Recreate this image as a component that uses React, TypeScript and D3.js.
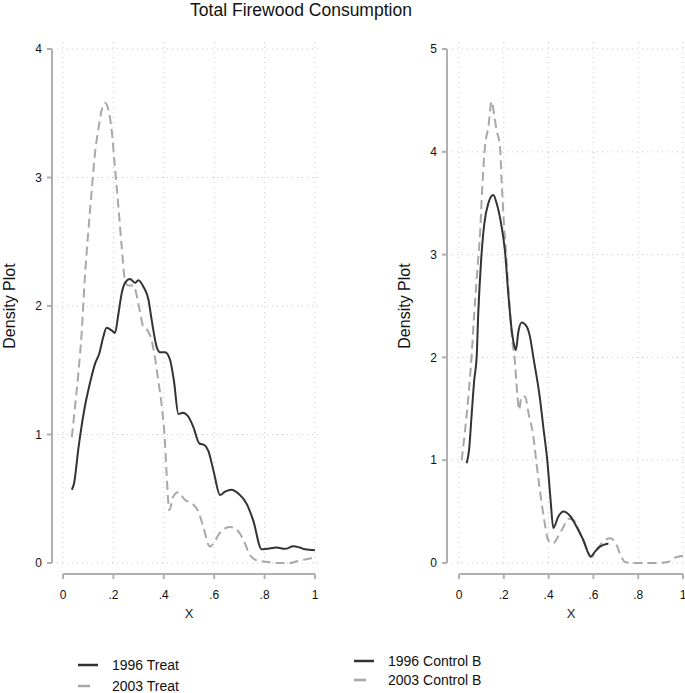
import React from "react";
import * as d3 from "d3";

const xTicks = [0, 0.2, 0.4, 0.6, 0.8, 1];
const xTickLabels = ["0", ".2", ".4", ".6", ".8", "1"];
const yTicksLeft = [0, 1, 2, 3, 4];
const yTicksRight = [0, 1, 2, 3, 4, 5];

const treat1996: [number, number][] = [
  [0.035, 0.57], [0.044, 0.62], [0.061, 0.89], [0.087, 1.22], [0.107, 1.4], [0.127, 1.55], [0.144, 1.63],
  [0.16, 1.76], [0.173, 1.83], [0.193, 1.81], [0.206, 1.79], [0.22, 1.94], [0.233, 2.1], [0.246, 2.18],
  [0.266, 2.21], [0.286, 2.18], [0.299, 2.2], [0.319, 2.15], [0.339, 2.05], [0.352, 1.89], [0.372, 1.68],
  [0.385, 1.64], [0.405, 1.64], [0.425, 1.58], [0.44, 1.42], [0.458, 1.16], [0.475, 1.17], [0.497, 1.14],
  [0.517, 1.06], [0.541, 0.93], [0.56, 0.92], [0.577, 0.87], [0.597, 0.72], [0.623, 0.53], [0.643, 0.555],
  [0.669, 0.57], [0.696, 0.54], [0.729, 0.46], [0.755, 0.33], [0.788, 0.107], [0.808, 0.11], [0.848, 0.12],
  [0.881, 0.11], [0.914, 0.13], [0.94, 0.12], [0.96, 0.107], [1.0, 0.1],
];

const treat2003: [number, number][] = [
  [0.035, 0.98], [0.048, 1.22], [0.061, 1.48], [0.074, 1.79], [0.087, 2.23], [0.1, 2.57], [0.114, 2.9],
  [0.127, 3.19], [0.14, 3.37], [0.154, 3.53], [0.167, 3.58], [0.18, 3.53], [0.193, 3.37], [0.206, 3.08],
  [0.22, 2.77], [0.233, 2.46], [0.246, 2.2], [0.259, 2.16], [0.28, 2.16], [0.299, 2.02], [0.319, 1.84],
  [0.332, 1.82], [0.352, 1.73], [0.365, 1.6], [0.378, 1.42], [0.392, 1.22], [0.405, 0.93], [0.411, 0.7],
  [0.422, 0.41], [0.438, 0.52], [0.458, 0.55], [0.484, 0.49], [0.511, 0.465], [0.537, 0.4], [0.557, 0.28],
  [0.583, 0.127], [0.597, 0.15], [0.617, 0.22], [0.643, 0.27], [0.663, 0.28], [0.689, 0.26], [0.716, 0.18],
  [0.742, 0.06], [0.769, 0.02], [0.808, 0.01], [0.848, 0.0], [0.9, 0.0], [0.94, 0.02], [0.98, 0.035],
  [1.0, 0.045],
];

const controlB1996: [number, number][] = [
  [0.034, 0.97], [0.045, 1.1], [0.057, 1.46], [0.068, 1.78], [0.079, 2.01], [0.086, 2.43], [0.098, 2.92],
  [0.113, 3.3], [0.131, 3.5], [0.153, 3.58], [0.168, 3.5], [0.188, 3.3], [0.205, 3.04], [0.22, 2.62],
  [0.235, 2.27], [0.246, 2.12], [0.254, 2.07], [0.265, 2.25], [0.28, 2.34], [0.302, 2.3], [0.317, 2.2],
  [0.332, 2.0], [0.362, 1.59], [0.376, 1.33], [0.394, 1.0], [0.409, 0.61], [0.421, 0.34], [0.443, 0.45],
  [0.466, 0.5], [0.496, 0.457], [0.525, 0.353], [0.555, 0.224], [0.588, 0.061], [0.607, 0.11],
  [0.629, 0.159], [0.667, 0.19],
];

const controlB2003: [number, number][] = [
  [0.012, 1.0], [0.027, 1.29], [0.042, 1.62], [0.057, 2.04], [0.068, 2.43], [0.083, 2.88], [0.094, 3.21],
  [0.104, 3.66], [0.116, 4.05], [0.131, 4.24], [0.146, 4.49], [0.158, 4.34], [0.168, 4.21], [0.183, 4.05],
  [0.19, 3.73], [0.198, 3.4], [0.213, 2.92], [0.228, 2.43], [0.24, 2.12], [0.247, 2.02], [0.26, 1.65],
  [0.268, 1.49], [0.28, 1.62], [0.295, 1.62], [0.31, 1.46], [0.332, 1.23], [0.347, 0.95], [0.376, 0.48],
  [0.399, 0.22], [0.421, 0.19], [0.443, 0.26], [0.466, 0.35], [0.488, 0.43], [0.51, 0.42], [0.54, 0.29],
  [0.57, 0.14], [0.592, 0.06], [0.615, 0.13], [0.644, 0.21], [0.674, 0.24], [0.696, 0.21], [0.719, 0.09],
  [0.741, 0.01], [0.778, 0.0], [0.882, 0.0], [0.934, 0.01], [0.957, 0.045], [1.0, 0.07],
];

const FONT = "'Liberation Sans', Arial, sans-serif";

type PanelProps = {
  x0: number; x1: number; yAxisX: number; yMax: number; yTop: number; yBottom: number;
  yTicks: number[]; gridRight: number; solid: [number, number][]; dashed: [number, number][];
  yLabelX: number; legendX: number; legendY: number; legendGap: number; labels: string[];
};

function Panel(p: PanelProps) {
  const x = d3.scaleLinear().domain([0, 1]).range([p.x0, p.x1]);
  const y = d3.scaleLinear().domain([0, p.yMax]).range([p.yBottom, p.yTop]);
  const line = d3.line<[number, number]>().x(d => x(d[0])).y(d => y(d[1])).curve(d3.curveMonotoneX);
  const xAxisY = p.yBottom + 11;
  const gridTop = p.yTop - 7;
  const gridBottom = p.yBottom + 3;
  const gridLeft = p.yAxisX + 5;
  const grid = "#c8c8c8";
  const axisCol = "#b0b0b0";
  return (
    <g>
      {xTicks.map(t => (
        <line key={"gx" + t} x1={x(t)} x2={x(t)} y1={gridTop} y2={gridBottom}
          stroke={grid} strokeWidth={1} strokeDasharray="1,4" />
      ))}
      {p.yTicks.map(t => (
        <line key={"gy" + t} x1={gridLeft} x2={p.gridRight} y1={y(t)} y2={y(t)}
          stroke={grid} strokeWidth={1} strokeDasharray="1,4" />
      ))}
      <line x1={p.yAxisX} x2={p.yAxisX} y1={y(p.yMax)} y2={p.yBottom} stroke={axisCol} strokeWidth={2} />
      {p.yTicks.map(t => (
        <g key={"yt" + t}>
          <line x1={p.yAxisX - 5} x2={p.yAxisX} y1={y(t)} y2={y(t)} stroke={axisCol} strokeWidth={2} />
          <text x={p.yAxisX - 10} y={y(t)} dy="0.35em" textAnchor="end" fontSize={12} fontFamily={FONT} fill="#111">{t}</text>
        </g>
      ))}
      <line x1={x(0)} x2={x(1)} y1={xAxisY} y2={xAxisY} stroke={axisCol} strokeWidth={2} />
      {xTicks.map((t, i) => (
        <g key={"xt" + t}>
          <line x1={x(t)} x2={x(t)} y1={xAxisY} y2={xAxisY + 5} stroke={axisCol} strokeWidth={2} />
          <text x={x(t)} y={xAxisY + 25} textAnchor="middle" fontSize={12} fontFamily={FONT} fill="#111">{xTickLabels[i]}</text>
        </g>
      ))}
      <text x={(x(0) + x(1)) / 2} y={xAxisY + 44} textAnchor="middle" fontSize={13} fontFamily={FONT} fill="#222">X</text>
      <text transform={`translate(${p.yLabelX},${(p.yTop + p.yBottom) / 2}) rotate(-90)`} textAnchor="middle"
        fontSize={16} fontFamily={FONT} fill="#111">Density Plot</text>
      <path d={line(p.dashed) || ""} fill="none" stroke="#a8a8a8" strokeWidth={2} strokeDasharray="9,5" />
      <path d={line(p.solid) || ""} fill="none" stroke="#333" strokeWidth={2} />
      <line x1={p.legendX} x2={p.legendX + 20} y1={p.legendY} y2={p.legendY} stroke="#333" strokeWidth={2.5} />
      <text x={p.legendX + 34} y={p.legendY} dy="0.35em" fontSize={14} fontFamily={FONT} fill="#111">{p.labels[0]}</text>
      <line x1={p.legendX} x2={p.legendX + 20} y1={p.legendY + p.legendGap} y2={p.legendY + p.legendGap}
        stroke="#a8a8a8" strokeWidth={2.5} strokeDasharray="12,8" />
      <text x={p.legendX + 34} y={p.legendY + p.legendGap} dy="0.35em" fontSize={14} fontFamily={FONT} fill="#111">{p.labels[1]}</text>
    </g>
  );
}

export default function App() {
  return (
    <svg width={685} height={693} style={{ position: "absolute", left: 0, top: 0, background: "#fff" }}>
      <rect width={685} height={693} fill="#fff" />
      <text x={301} y={16} textAnchor="middle" fontSize={17.5} fontFamily={FONT} fill="#111">Total Firewood Consumption</text>
      <Panel x0={63} x1={315} yAxisX={52} yMax={4} yTop={49} yBottom={563} yTicks={yTicksLeft}
        gridRight={322} solid={treat1996} dashed={treat2003} yLabelX={15}
        legendX={78} legendY={665} legendGap={21} labels={["1996 Treat", "2003 Treat"]} />
      <Panel x0={459} x1={683} yAxisX={447} yMax={5} yTop={49} yBottom={563} yTicks={yTicksRight}
        gridRight={685} solid={controlB1996} dashed={controlB2003} yLabelX={410}
        legendX={354} legendY={661} legendGap={19} labels={["1996 Control B", "2003 Control B"]} />
    </svg>
  );
}
